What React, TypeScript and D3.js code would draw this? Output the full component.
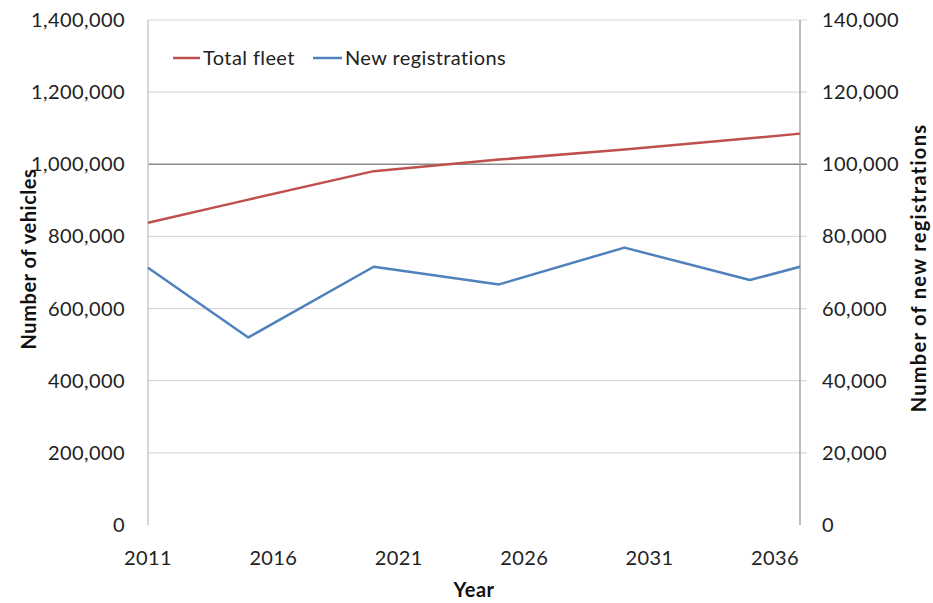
import React from "react";
import * as d3 from "d3";

const years = [2011, 2015, 2020, 2025, 2030, 2035, 2037];
const totalFleet = [838000, 902000, 981000, 1013000, 1041000, 1072000, 1085000];
const newRegistrations = [71300, 52000, 71600, 66700, 76900, 67900, 71600];
const xTicks = [2011, 2016, 2021, 2026, 2031, 2036];
const leftTicks = [0, 200000, 400000, 600000, 800000, 1000000, 1200000, 1400000];
const rightTicks = [0, 20000, 40000, 60000, 80000, 100000, 120000, 140000];

const W = 933;
const H = 603;
const FONT = "Lato, 'Open Sans', sans-serif";

export default function App() {
  const left = 148, right = 800, top = 20, bottom = 525;
  const x = d3.scaleLinear().domain([2011, 2037]).range([left, right]);
  const yL = d3.scaleLinear().domain([0, 1400000]).range([bottom, top]);
  const yR = d3.scaleLinear().domain([0, 140000]).range([bottom, top]);
  const fmt = d3.format(",");
  const fleetLine = d3.line<number>().x((_, i) => x(years[i])).y((d) => yL(d))(totalFleet) || "";
  const regLine = d3.line<number>().x((_, i) => x(years[i])).y((d) => yR(d))(newRegistrations) || "";
  const fs = 20;
  const ls = 0.4;

  return (
    <svg width={W} height={H} style={{ position: "absolute", left: 0, top: 0, background: "#fff" }} fontFamily={FONT}>
      {/* gridlines */}
      {leftTicks.filter((t) => t > 0).map((t) => (
        <line key={"g" + t} x1={left} x2={right + 7} y1={yL(t)} y2={yL(t)}
          stroke={t === 1000000 ? "#8a8a8a" : "#d9d9d9"} strokeWidth={t === 1000000 ? 1.5 : 1.2} />
      ))}
      {/* axes */}
      <line x1={left} x2={left} y1={top} y2={bottom} stroke="#c8c8c8" strokeWidth={1.5} />
      <line x1={right} x2={right} y1={top} y2={bottom} stroke="#a6a6a6" strokeWidth={1.5} />
      {/* left tick labels */}
      {leftTicks.map((t) => (
        <text key={"l" + t} x={125} y={yL(t)} dy="0.35em" textAnchor="end" fontSize={fs} letterSpacing={ls} fill="#222">{fmt(t)}</text>
      ))}
      {/* right tick labels */}
      {rightTicks.map((t) => (
        <text key={"r" + t} x={822} y={yR(t)} dy="0.35em" textAnchor="start" fontSize={fs} letterSpacing={ls} fill="#222">{fmt(t)}</text>
      ))}
      {/* x tick labels */}
      {xTicks.map((t) => (
        <text key={"x" + t} x={x(t)} y={558} dy="0.35em" textAnchor="middle" fontSize={fs} letterSpacing={ls} fill="#222">{t}</text>
      ))}
      {/* axis titles */}
      <text x={(left + right) / 2} y={590} dy="0.35em" textAnchor="middle" fontSize={fs} letterSpacing={0.5} fontWeight="bold" fill="#111">Year</text>
      <text transform={`translate(29,259) rotate(-90)`} dy="0.35em" textAnchor="middle" fontSize={fs} letterSpacing={0.55} fontWeight="bold" fill="#111">Number of vehicles</text>
      <text transform={`translate(919,268) rotate(-90)`} dy="0.35em" textAnchor="middle" fontSize={fs} letterSpacing={1.3} fontWeight="bold" fill="#111">Number of new registrations</text>
      {/* series */}
      <path d={fleetLine} fill="none" stroke="#c0504d" strokeWidth={2.5} strokeLinejoin="round" />
      <path d={regLine} fill="none" stroke="#4f81bd" strokeWidth={2.5} strokeLinejoin="round" />
      {/* legend */}
      <line x1={173} x2={200} y1={58} y2={58} stroke="#c0504d" strokeWidth={2.5} />
      <text x={203} y={58} dy="0.35em" fontSize={fs} letterSpacing={ls} fill="#222">Total fleet</text>
      <line x1={313} x2={342} y1={58} y2={58} stroke="#4f81bd" strokeWidth={2.5} />
      <text x={345} y={58} dy="0.35em" fontSize={fs} letterSpacing={ls} fill="#222">New registrations</text>
    </svg>
  );
}
